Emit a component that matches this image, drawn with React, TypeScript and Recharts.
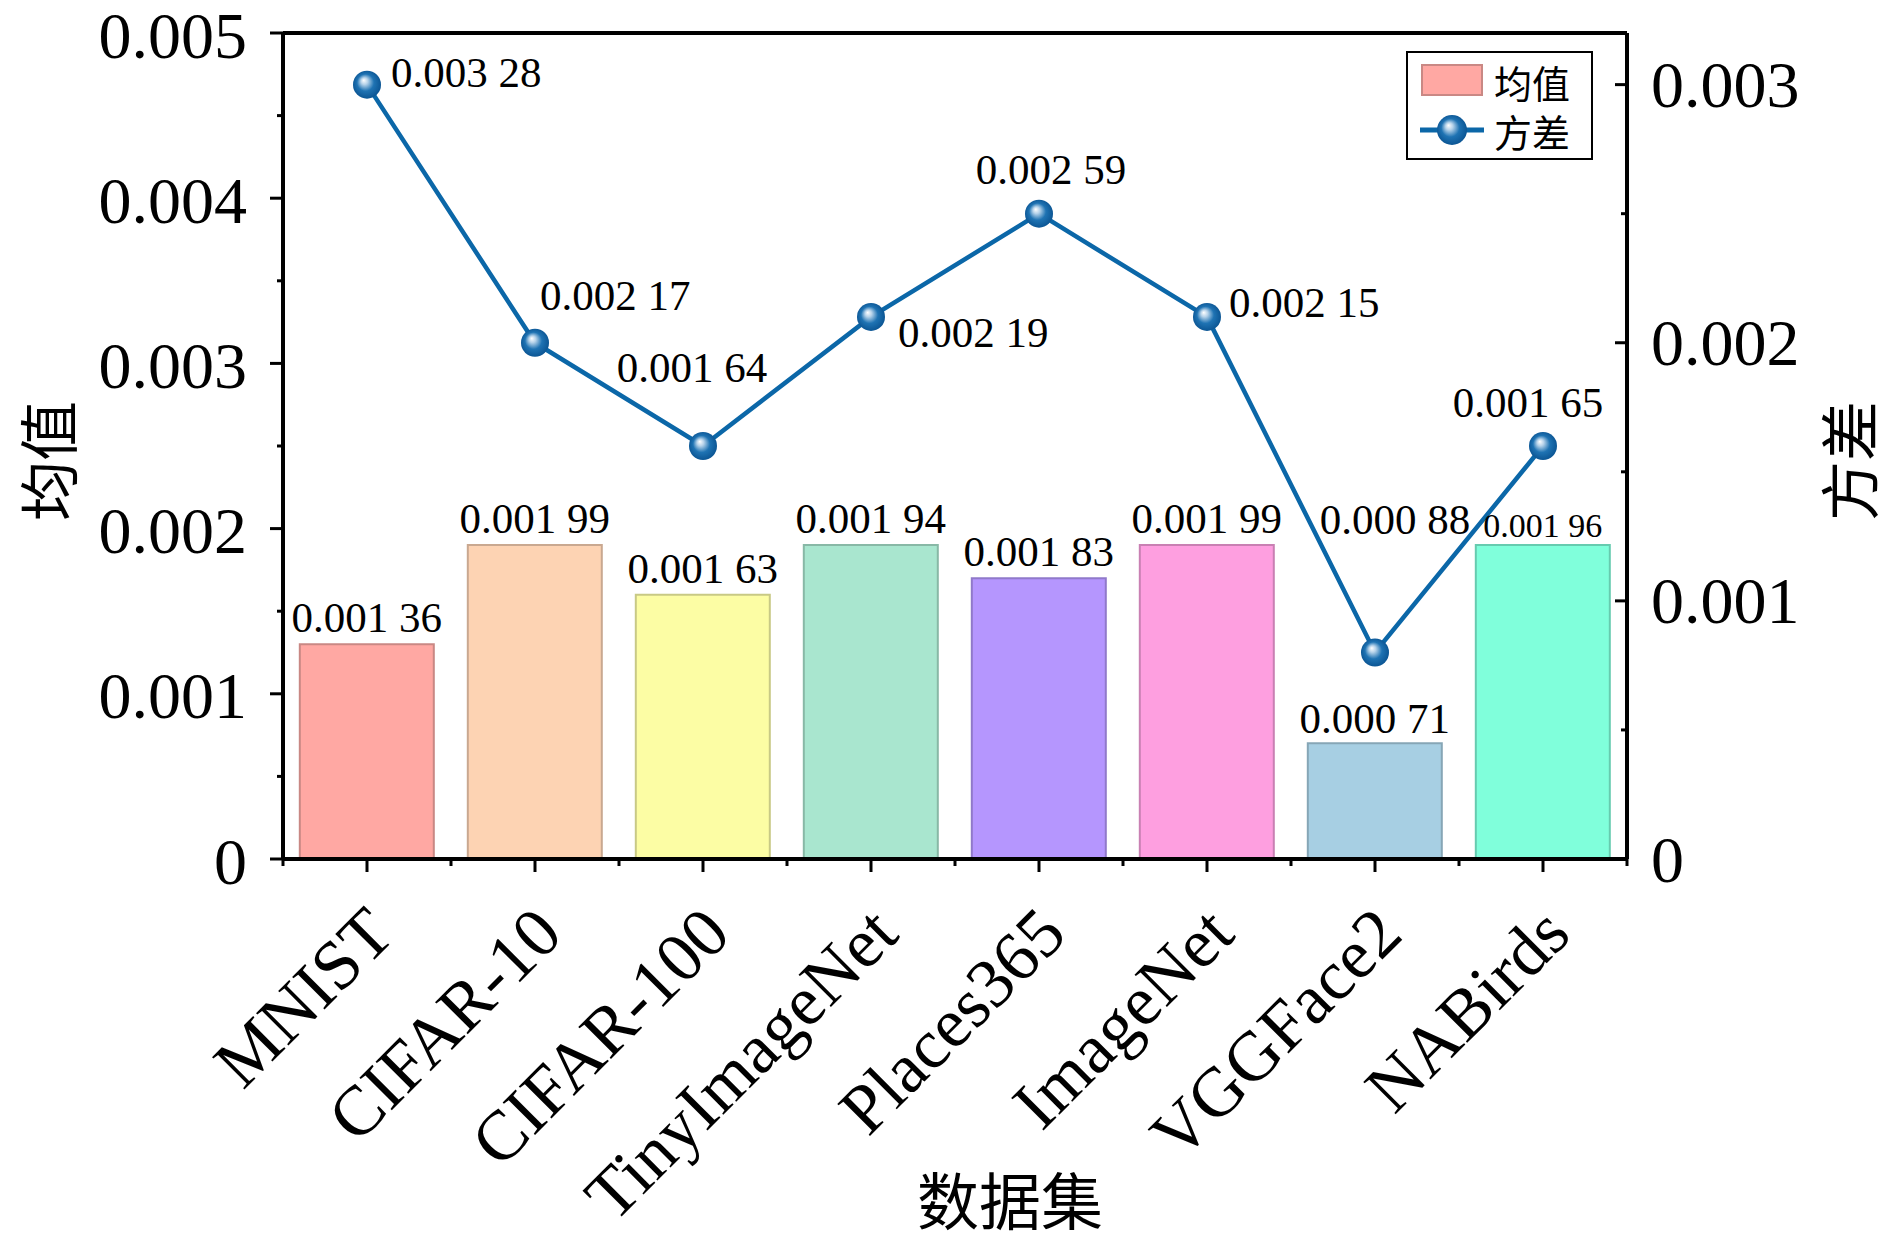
import React from 'react';
import { ComposedChart, Bar, Line, XAxis, YAxis, Cell, LabelList, Legend, ReferenceLine } from 'recharts';

// ---------- data ----------
const categories = ['MNIST', 'CIFAR-10', 'CIFAR-100', 'TinyImageNet', 'Places365', 'ImageNet', 'VGGFace2', 'NABirds'];
// bar heights as drawn in the reference (left axis)
const meanValues = [0.0013, 0.0019, 0.0016, 0.0019, 0.0017, 0.0019, 0.0007, 0.0019];
const meanLabels = ['0.001 36', '0.001 99', '0.001 63', '0.001 94', '0.001 83', '0.001 99', '0.000 71', '0.001 96'];
// line points as drawn in the reference (right axis)
const varValues = [0.003, 0.002, 0.0016, 0.0021, 0.0025, 0.0021, 0.0008, 0.0016];
const varLabels = ['0.003 28', '0.002 17', '0.001 64', '0.002 19', '0.002 59', '0.002 15', '0.000 88', '0.001 65'];

const leftTicks = [0, 0.0005, 0.001, 0.0015, 0.002, 0.0025, 0.003, 0.0035, 0.004, 0.0045, 0.005];
const leftTickLabels = ['0', '', '0.001', '', '0.002', '', '0.003', '', '0.004', '', '0.005'];
const rightTicks = [0, 0.0005, 0.001, 0.0015, 0.002, 0.0025, 0.003];
const rightTickLabels = ['0', '', '0.001', '', '0.002', '', '0.003'];

const meanName = '均值';
const varName = '方差';
const xTitle = '数据集';

// ---------- style ----------
const W = 1890;
const H = 1241;
const PLOT_LEFT = 283;
const PLOT_RIGHT = 1627;
const PLOT_TOP = 33;
const PLOT_BOTTOM = 859;
const BAND = (PLOT_RIGHT - PLOT_LEFT) / categories.length;

const barColors = ['#FFA8A3', '#FDD3B3', '#FCFDA4', '#A9E6CF', '#B596FE', '#FE9FE0', '#A7CFE3', '#80FFDB'];
const barBorders = ['#C98884', '#C9A890', '#C8C985', '#88B8A6', '#9079CA', '#C980B3', '#86A6B6', '#66CBAF'];
const barLabelSizes = [43, 43, 43, 43, 43, 43, 43, 34];
const barLabelGaps = [12, 12, 12, 12, 12, 12, 10, 8];
// label placement relative to each line point: [dx, dy(baseline), anchor]
const varLabelPlacement: [number, number, string][] = [
  [24, 2, 'start'],
  [5, -33, 'start'],
  [-11, -64, 'middle'],
  [27, 30, 'start'],
  [12, -30, 'middle'],
  [22, 0, 'start'],
  [20, -119, 'middle'],
  [-15, -29, 'middle'],
];

const LINE_COLOR = '#0b67a8';
const SERIF = '"Liberation Serif", "Times New Roman", serif';
const CJK = '"Noto Sans CJK SC", sans-serif';

const data = categories.map((name, i) => ({
  name,
  mean: meanValues[i],
  variance: varValues[i],
}));

const isMajor = (v: number) => Math.abs(v * 1000 - Math.round(v * 1000)) < 1e-6;

const LeftTick = (props: any) => {
  const { x, y, payload } = props;
  const major = isMajor(payload.value);
  return (
    <g>
      <line x1={x} x2={x - (major ? 13 : 6)} y1={y} y2={y} stroke="#000" strokeWidth={3} />
      {major && (
        <text x={x - 36} y={y + 2} textAnchor="end" dominantBaseline="central" fontFamily={SERIF} fontSize={66} fill="#000">
          {leftTickLabels[leftTicks.indexOf(payload.value)] ?? ''}
        </text>
      )}
    </g>
  );
};

const RightTick = (props: any) => {
  const { x, y, payload } = props;
  const major = isMajor(payload.value);
  return (
    <g>
      <line x1={x} x2={x - (major ? 12 : 6)} y1={y} y2={y} stroke="#000" strokeWidth={3} />
      {major && (
        <text x={x + 24} y={y} textAnchor="start" dominantBaseline="central" fontFamily={SERIF} fontSize={66} fill="#000">
          {rightTickLabels[rightTicks.indexOf(payload.value)] ?? ''}
        </text>
      )}
    </g>
  );
};

const XTick = (props: any) => {
  const { x, y, payload, index } = props;
  const half = BAND / 2;
  return (
    <g>
      <line x1={x} x2={x} y1={y} y2={y + 13} stroke="#000" strokeWidth={3} />
      <line x1={x - half} x2={x - half} y1={y} y2={y + 7} stroke="#000" strokeWidth={3} />
      {index === categories.length - 1 && (
        <line x1={x + half} x2={x + half} y1={y} y2={y + 7} stroke="#000" strokeWidth={3} />
      )}
      <text
        transform={`translate(${x + 30},${y + 78}) rotate(-45)`}
        textAnchor="end"
        fontFamily={SERIF}
        fontSize={70}
        fill="#000"
      >
        {payload.value}
      </text>
    </g>
  );
};

const SphereDefs = ({ id }: { id: string }) => (
  <defs>
    <radialGradient id={id} cx="50%" cy="50%" r="55%" fx="38%" fy="34%">
      <stop offset="0%" stopColor="#ffffff" />
      <stop offset="22%" stopColor="#b7d3ea" />
      <stop offset="55%" stopColor="#1f73b3" />
      <stop offset="100%" stopColor="#08508e" />
    </radialGradient>
  </defs>
);

const Dot = (props: any) => {
  const { cx, cy, index } = props;
  if (cx == null || cy == null) return null;
  const id = `sphere-${index}`;
  return (
    <g key={id}>
      <SphereDefs id={id} />
      <circle cx={cx} cy={cy} r={14} fill={`url(#${id})`} />
    </g>
  );
};

const BarLabel = (props: any) => {
  const { x, y, width, index } = props;
  return (
    <text
      x={x + width / 2}
      y={y - barLabelGaps[index]}
      textAnchor="middle"
      fontFamily={SERIF}
      fontSize={barLabelSizes[index]}
      fill="#000"
    >
      {meanLabels[index]}
    </text>
  );
};

const LineLabel = (props: any) => {
  const { x, y, index } = props;
  const [dx, dy, anchor] = varLabelPlacement[index];
  return (
    <text x={x + dx} y={y + dy} textAnchor={anchor as any} fontFamily={SERIF} fontSize={43} fill="#000">
      {varLabels[index]}
    </text>
  );
};

const LegendContent = () => (
  <svg width={188} height={110} style={{ display: 'block' }}>
    <SphereDefs id="sphere-legend" />
    <rect x={1} y={1} width={185} height={107} fill="#fff" stroke="#000" strokeWidth={2} />
    <rect x={16} y={14} width={60} height={30} fill={barColors[0]} stroke={barBorders[0]} strokeWidth={2} />
    <text x={88} y={30} dominantBaseline="central" fontFamily={CJK} fontSize={38} fill="#000">
      {meanName}
    </text>
    <line x1={14} x2={78} y1={79} y2={79} stroke={LINE_COLOR} strokeWidth={5} />
    <circle cx={46} cy={79} r={15} fill="url(#sphere-legend)" />
    <text x={88} y={79} dominantBaseline="central" fontFamily={CJK} fontSize={38} fill="#000">
      {varName}
    </text>
  </svg>
);

const TitleLeft = () => (
  <text
    transform={`translate(45,461) rotate(-90)`}
    textAnchor="middle"
    dominantBaseline="central"
    fontFamily={CJK}
    fontSize={60}
    fill="#000"
  >
    {meanName}
  </text>
);

const TitleRight = () => (
  <text
    transform={`translate(1846,461) rotate(-90)`}
    textAnchor="middle"
    dominantBaseline="central"
    fontFamily={CJK}
    fontSize={60}
    fill="#000"
  >
    {varName}
  </text>
);

const TitleBottom = () => (
  <text x={1010} y={1198} textAnchor="middle" dominantBaseline="central" fontFamily={CJK} fontSize={62} fill="#000">
    {xTitle}
  </text>
);

export default function App() {
  return (
    <div style={{ position: 'absolute', left: 0, top: 0, width: W, height: H, background: '#fff' }}>
      <ComposedChart
        width={W}
        height={H}
        data={data}
        margin={{ top: PLOT_TOP, right: 0, bottom: 0, left: 0 }}
        barCategoryGap="10%"
      >
        <XAxis
          dataKey="name"
          height={H - PLOT_BOTTOM}
          interval={0}
          tickSize={0}
          tickMargin={0}
          tickLine={false}
          axisLine={{ stroke: '#000', strokeWidth: 4 }}
          tick={<XTick />}
          label={{ content: () => <TitleBottom /> }}
        />
        <YAxis
          yAxisId="left"
          width={PLOT_LEFT}
          domain={[0, 0.005]}
          ticks={leftTicks}
          interval={0}
          tickSize={0}
          tickMargin={0}
          tickLine={false}
          axisLine={{ stroke: '#000', strokeWidth: 4 }}
          tick={<LeftTick />}
          label={{ content: () => <TitleLeft /> }}
        />
        <YAxis
          yAxisId="right"
          orientation="right"
          width={W - PLOT_RIGHT}
          domain={[0, 0.0032]}
          ticks={rightTicks}
          interval={0}
          tickSize={0}
          tickMargin={0}
          tickLine={false}
          axisLine={{ stroke: '#000', strokeWidth: 4 }}
          tick={<RightTick />}
          label={{ content: () => <TitleRight /> }}
        />
        <ReferenceLine yAxisId="left" y={0.005} stroke="#000" strokeWidth={4} />
        <Legend
          layout="horizontal"
          verticalAlign="middle"
          align="center"
          content={<LegendContent />}
          wrapperStyle={{ left: 1406, top: 51, width: 188, height: 110 }}
        />
        <Bar yAxisId="left" dataKey="mean" name={meanName} isAnimationActive={false} strokeWidth={2}>
          {data.map((d, i) => (
            <Cell key={d.name} fill={barColors[i]} stroke={barBorders[i]} />
          ))}
          <LabelList dataKey="mean" content={<BarLabel />} />
        </Bar>
        <Line
          yAxisId="right"
          type="linear"
          dataKey="variance"
          name={varName}
          stroke={LINE_COLOR}
          strokeWidth={4.5}
          dot={<Dot />}
          activeDot={false}
          isAnimationActive={false}
        >
          <LabelList dataKey="variance" content={<LineLabel />} />
        </Line>
      </ComposedChart>
    </div>
  );
}
